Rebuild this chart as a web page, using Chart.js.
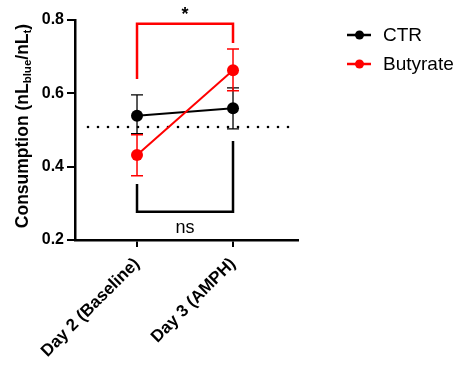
<!DOCTYPE html>
<html><head><meta charset="utf-8">
<script src="https://cdn.jsdelivr.net/npm/chart.js@4"></script>
<style>html,body{margin:0;padding:0;background:#fff}#wrap{width:454px;height:366px}</style>
</head><body><div id="wrap"><canvas id="c" width="454" height="366"></canvas></div>
<script>
const categories = ['Day 2 (Baseline)', 'Day 3 (AMPH)'];
const seriesNames = ['CTR', 'Butyrate'];
const ctrMean = [0.539, 0.559];
const ctrUpper = [0.596, 0.615];
const ctrLower = [0.490, 0.503];
const butMean = [0.432, 0.663];
const butUpper = [0.487, 0.721];
const butLower = [0.375, 0.607];
const yTicks = [0.2, 0.4, 0.6, 0.8];
const refLine = 0.508;
const sigTop = {label: '*', y: 0.79, left: 0.639, right: 0.737};
const sigBottom = {label: 'ns', y: 0.277, left: 0.353, right: 0.470};

const FONT = '"Liberation Sans", Arial, sans-serif';

const overlay = {
  id: 'overlay',
  beforeDatasetsDraw(chart) {
    const ctx = chart.ctx, x = chart.scales.x, y = chart.scales.y;
    ctx.save();
    ctx.fillStyle = '#000';
    const yy = y.getPixelForValue(refLine);
    for (let px = 88; px <= 292; px += 10) {
      ctx.beginPath(); ctx.arc(px, yy, 1.3, 0, Math.PI * 2); ctx.fill();
    }
    const bars = [[ctrUpper, ctrLower, '#000', 1.3], [butUpper, butLower, '#ff0000', 1.5]];
    bars.forEach(([up, lo, col, w]) => {
      ctx.strokeStyle = col; ctx.lineWidth = w;
      for (let i = 0; i < up.length; i++) {
        const px = x.getPixelForValue(i);
        const t = y.getPixelForValue(up[i]), b = y.getPixelForValue(lo[i]);
        ctx.beginPath();
        ctx.moveTo(px, t); ctx.lineTo(px, b);
        ctx.moveTo(px - 6, t); ctx.lineTo(px + 6, t);
        ctx.moveTo(px - 6, b); ctx.lineTo(px + 6, b);
        ctx.stroke();
      }
    });
    const x0 = x.getPixelForValue(0), x1 = x.getPixelForValue(1);
    ctx.lineWidth = 2.5;
    ctx.strokeStyle = '#ff0000';
    ctx.beginPath();
    ctx.moveTo(x0, y.getPixelForValue(sigTop.left));
    ctx.lineTo(x0, y.getPixelForValue(sigTop.y));
    ctx.lineTo(x1, y.getPixelForValue(sigTop.y));
    ctx.lineTo(x1, y.getPixelForValue(sigTop.right));
    ctx.stroke();
    ctx.strokeStyle = '#000';
    ctx.beginPath();
    ctx.moveTo(x0, y.getPixelForValue(sigBottom.left));
    ctx.lineTo(x0, y.getPixelForValue(sigBottom.y));
    ctx.lineTo(x1, y.getPixelForValue(sigBottom.y));
    ctx.lineTo(x1, y.getPixelForValue(sigBottom.right));
    ctx.stroke();
    ctx.fillStyle = '#000';
    ctx.textAlign = 'center';
    ctx.textBaseline = 'middle';
    ctx.font = 'bold 18px ' + FONT;
    ctx.fillText(sigTop.label, (x0 + x1) / 2, 15);
    ctx.font = '18px ' + FONT;
    ctx.fillText(sigBottom.label, (x0 + x1) / 2, 228);
    ctx.restore();
  },
  afterDraw(chart) {
    const ctx = chart.ctx;
    ctx.save();
    const parts = [['Consumption (nL', false], ['blue', true], ['/nL', false], ['t', true], [')', false]];
    const big = 'bold 17.5px ' + FONT, small = 'bold 11.5px ' + FONT;
    let total = 0;
    parts.forEach(([t, s]) => { ctx.font = s ? small : big; total += ctx.measureText(t).width; });
    ctx.translate(23, 126);
    ctx.rotate(-Math.PI / 2);
    ctx.fillStyle = '#000';
    ctx.textBaseline = 'middle';
    ctx.textAlign = 'left';
    let cx = -total / 2;
    parts.forEach(([t, s]) => {
      ctx.font = s ? small : big;
      ctx.fillText(t, cx, s ? 4.5 : 0);
      cx += ctx.measureText(t).width;
    });
    ctx.restore();
    ctx.save();
    const items = [[seriesNames[0], '#000', 35], [seriesNames[1], '#ff0000', 64]];
    items.forEach(([name, col, ly]) => {
      ctx.strokeStyle = col; ctx.fillStyle = col; ctx.lineWidth = 2.5;
      ctx.beginPath(); ctx.moveTo(347, ly); ctx.lineTo(371, ly); ctx.stroke();
      ctx.beginPath(); ctx.arc(359.5, ly, 4.5, 0, Math.PI * 2); ctx.fill();
      ctx.fillStyle = '#000';
      ctx.font = '19px ' + FONT;
      ctx.textBaseline = 'middle';
      ctx.fillText(name, 383, ly + 1);
    });
    ctx.restore();
  }
};

new Chart(document.getElementById('c'), {
  type: 'line',
  data: {
    datasets: [
      {label: seriesNames[0], data: ctrMean.map((v, i) => ({x: i, y: v})), borderColor: '#000', backgroundColor: '#000',
       pointRadius: 6, pointBorderWidth: 0, borderWidth: 2, order: 1},
      {label: seriesNames[1], data: butMean.map((v, i) => ({x: i, y: v})), borderColor: '#ff0000', backgroundColor: '#ff0000',
       pointRadius: 6, pointBorderWidth: 0, borderWidth: 2, order: 0}
    ]
  },
  options: {
    responsive: false,
    animation: false,
    layout: {padding: {top: 20, right: 156, left: 0, bottom: 0}},
    plugins: {legend: {display: false}, tooltip: {enabled: false}},
    scales: {
      x: {
        type: 'linear', min: -0.646, max: 1.677,
        afterBuildTicks(s) { s.ticks = categories.map((c, i) => ({value: i})); },
        afterFit(s) { s.height = 126; },
        ticks: {
          callback: (v) => categories[v], autoSkip: false,
          maxRotation: 45, minRotation: 45, color: '#000',
          font: {family: FONT, size: 17, weight: 'bold'}, padding: 7
        },
        grid: {drawOnChartArea: false, tickLength: 7, color: '#000', lineWidth: 2},
        border: {color: '#000', width: 2.5}
      },
      y: {
        min: 0.2, max: 0.8,
        afterBuildTicks(s) { s.ticks = yTicks.map(v => ({value: v})); },
        afterFit(s) { s.width = 75; },
        ticks: {callback: (v) => v.toFixed(1), color: '#000', font: {family: FONT, size: 16, weight: 'bold'}, padding: 3},
        grid: {drawOnChartArea: false, tickLength: 8, color: '#000', lineWidth: 2},
        border: {color: '#000', width: 2.5}
      }
    }
  },
  plugins: [overlay]
});
</script></body></html>
